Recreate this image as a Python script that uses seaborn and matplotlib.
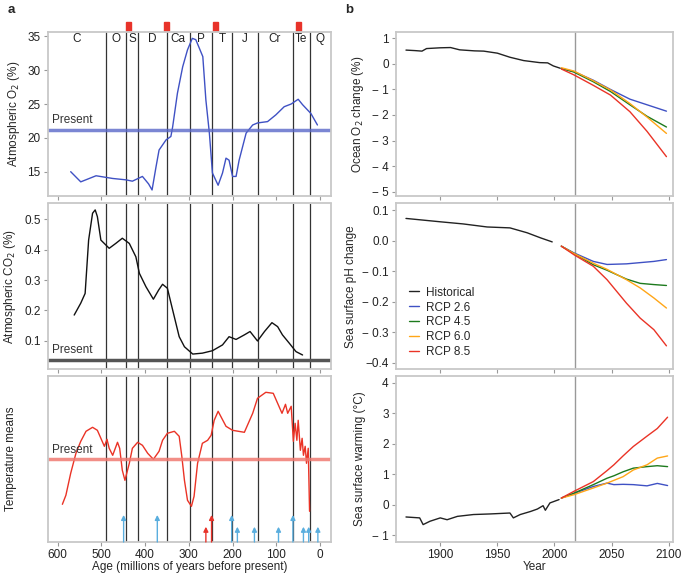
import numpy as np
import pandas as pd
import seaborn as sns
import matplotlib.pyplot as plt
from matplotlib.patches import Rectangle
from matplotlib.lines import Line2D

sns.set_style("ticks")
plt.rcParams['font.family'] = ['Liberation Sans', 'DejaVu Sans']

# ---- panel a: deep time (Myr before present) ----
o2_age = [570, 547, 512, 474, 444, 429, 406, 392, 384, 375, 368, 352, 341, 337, 326, 314,
          303, 292, 284, 268, 261, 253, 246, 233, 223, 215, 208, 200, 192, 185, 169, 154,
          143, 120, 101, 82, 66, 50, 40, 21, 6]
o2_val = [15.0, 13.5, 14.4, 14.0, 13.8, 13.6, 14.3, 13.2, 12.3, 15.7, 18.2, 19.7, 20.2, 21.6,
          26.6, 30.5, 33.0, 34.7, 34.5, 32.0, 25.6, 20.7, 14.8, 13.0, 14.8, 17.0, 16.7, 14.3,
          14.3, 16.7, 20.7, 21.9, 22.2, 22.4, 23.4, 24.6, 25.0, 25.7, 24.9, 23.6, 21.9]

co2_age = [562, 547, 537, 529, 520, 514, 509, 501, 482, 467, 452, 436, 421, 413, 398, 381,
           369, 360, 349, 337, 322, 310, 291, 269, 246, 223, 208, 192, 173, 160, 143, 127,
           110, 97, 86, 70, 55, 40]
co2_val = [0.185, 0.224, 0.256, 0.431, 0.519, 0.530, 0.508, 0.431, 0.404, 0.420, 0.437,
           0.420, 0.376, 0.322, 0.278, 0.237, 0.267, 0.286, 0.273, 0.202, 0.114, 0.081,
           0.057, 0.060, 0.068, 0.087, 0.114, 0.105, 0.120, 0.131, 0.100, 0.131, 0.160,
           0.147, 0.120, 0.092, 0.065, 0.054]

temp_age = [589, 581, 570, 558, 547, 535, 520, 509, 501, 493, 487, 482, 474, 463, 458, 452,
            446, 436, 429, 417, 406, 394, 381, 368, 360, 349, 333, 322, 316, 310, 303, 294,
            288, 280, 269, 257, 249, 242, 233, 227, 215, 200, 173, 154, 143, 124, 107, 97,
            87, 79, 74, 66, 61, 57, 53, 50, 45, 41, 38, 34, 31, 27, 24]
temp_val = [-4.5, -3.6, -1.4, 0.6, 1.8, 2.8, 3.2, 2.9, 2.1, 1.3, 2.0, 1.1, 0.4, 1.7, 1.1,
            -1.1, -2.1, -0.4, 1.1, 1.7, 1.4, 0.6, 0.0, 0.8, 1.9, 2.6, 2.8, 2.3, 0.3, -2.1,
            -4.1, -4.7, -3.7, -0.4, 1.6, 1.9, 2.4, 3.9, 4.8, 4.3, 3.3, 2.9, 2.7, 4.6, 6.1,
            6.7, 6.6, 5.6, 4.6, 5.5, 4.6, 5.3, 1.8, 3.6, 1.9, 3.9, 0.9, 2.1, 0.4, 1.3, -0.4,
            1.1, -5.2]

boundaries = [490, 443, 416, 350, 297, 247, 201, 142, 63, 24]
periods = ["C", "O", "S", "D", "Ca", "P", "T", "J", "Cr", "Te", "Q"]
period_pos = [557, 467, 430, 383, 324, 272, 224, 172, 103, 44, 0]
extinctions = [437, 352, 238, 50]
blue_tall = [449, 372, 202, 62]
blue_short = [189, 150, 95, 38, 26, 5]
red_tall = [248]
red_short = [261]

# ---- panel b: modern ocean ----
o2_hist_years = [1870, 1878, 1884, 1888, 1900, 1909, 1917, 1930, 1938, 1950, 1961, 1973,
                 1987, 1994, 1999, 2005]
o2_hist = [0.54, 0.52, 0.50, 0.60, 0.63, 0.64, 0.55, 0.51, 0.50, 0.42, 0.26, 0.13, 0.05,
           0.04, -0.08, -0.17]
o2_rcp_years = [2006, 2017, 2034, 2049, 2066, 2081, 2098]
o2_rcp26 = [-0.18, -0.30, -0.64, -1.00, -1.38, -1.60, -1.85]
o2_rcp45 = [-0.18, -0.32, -0.70, -1.08, -1.60, -2.05, -2.47]
o2_rcp60 = [-0.15, -0.28, -0.66, -1.02, -1.55, -2.08, -2.72]
o2_rcp85 = [-0.20, -0.43, -0.84, -1.22, -1.87, -2.64, -3.63]

ph_hist_years = [1870, 1900, 1920, 1941, 1961, 1976, 1988, 1998]
ph_hist = [0.073, 0.062, 0.055, 0.045, 0.042, 0.026, 0.009, -0.004]
ph_rcp_years = [2006, 2017, 2034, 2046, 2063, 2075, 2087, 2098]
ph_rcp26 = [-0.018, -0.040, -0.068, -0.078, -0.076, -0.072, -0.068, -0.062]
ph_rcp45 = [-0.018, -0.042, -0.079, -0.097, -0.126, -0.140, -0.144, -0.147]
ph_rcp60 = [-0.018, -0.042, -0.074, -0.094, -0.128, -0.155, -0.188, -0.221]
ph_rcp85 = [-0.018, -0.046, -0.084, -0.128, -0.205, -0.254, -0.292, -0.345]

sst_hist_years = [1870, 1882, 1885, 1891, 1900, 1906, 1915, 1929, 1944, 1961, 1964, 1970,
                  1979, 1985, 1990, 1992, 1996, 2004]
sst_hist = [-0.40, -0.43, -0.65, -0.54, -0.43, -0.49, -0.38, -0.32, -0.30, -0.27, -0.43,
            -0.32, -0.22, -0.14, -0.03, -0.18, 0.06, 0.17]
sst_rcp_years = [2006, 2017, 2034, 2046, 2052, 2060, 2069, 2081, 2090, 2099]
sst_rcp26 = [0.22, 0.37, 0.60, 0.71, 0.66, 0.67, 0.66, 0.62, 0.70, 0.63]
sst_rcp45 = [0.22, 0.38, 0.66, 0.87, 0.95, 1.08, 1.20, 1.25, 1.28, 1.25]
sst_rcp60 = [0.22, 0.33, 0.55, 0.71, 0.80, 0.92, 1.14, 1.31, 1.53, 1.60]
sst_rcp85 = [0.22, 0.44, 0.76, 1.12, 1.31, 1.60, 1.91, 2.25, 2.50, 2.87]

scen_colors = {"Historical": "#222222", "RCP 2.6": "#3f51c4", "RCP 4.5": "#1d7a1d",
               "RCP 6.0": "#ffa617", "RCP 8.5": "#ea3326"}


def long_df(hy, h, ry, r26, r45, r60, r85):
    parts = [pd.DataFrame({"year": hy, "val": h, "scen": "Historical"})]
    for name, v in [("RCP 2.6", r26), ("RCP 4.5", r45), ("RCP 6.0", r60), ("RCP 8.5", r85)]:
        parts.append(pd.DataFrame({"year": ry, "val": v, "scen": name}))
    return pd.concat(parts, ignore_index=True)


W, H = 685, 574
fig = plt.figure(figsize=(W / 100, H / 100), dpi=100)
rows = [(31.7, 196), (203.5, 369), (376, 542)]


def add_ax(x0, x1, r):
    y0, y1 = r
    return fig.add_axes([x0 / W, 1 - y1 / H, (x1 - x0) / W, (y1 - y0) / H])


axL = [add_ax(47.5, 331, r) for r in rows]
axR = [add_ax(395.7, 673.3, r) for r in rows]

for ax in axL + axR:
    for s in ax.spines.values():
        s.set_color("#c8c8c8")
        s.set_linewidth(1.3)
    ax.tick_params(direction="out", length=3, width=0.8, color="#999999",
                   labelsize=8.5, labelcolor="#222222", pad=2)

# left panels
sns.lineplot(x=o2_age, y=o2_val, ax=axL[0], color="#3f51c4", lw=1.0, sort=False)
sns.lineplot(x=co2_age, y=co2_val, ax=axL[1], color="#111111", lw=1.0, sort=False)
sns.lineplot(x=temp_age, y=temp_val, ax=axL[2], color="#ea3326", lw=1.0, sort=False)

axL[0].axhline(21.2, color="#5a68c8", lw=2.5, alpha=0.8)
axL[1].axhline(0.038, color="#555555", lw=2.5)
axL[2].axhline(0.0, color="#f07a72", lw=2.5, alpha=0.85)

axL[0].set_ylim(11.41, 35.68)
axL[0].set_yticks([15, 20, 25, 30, 35])
axL[1].set_ylim(0.008, 0.551)
axL[1].set_yticks([0.1, 0.2, 0.3, 0.4, 0.5])
axL[2].set_ylim(-8.27, 8.33)
axL[2].set_yticks([])

present_y = [21.2, 0.038, 0.0]
for ax, py in zip(axL, present_y):
    ax.set_xlim(623, -25)
    ax.set_xticks([600, 500, 400, 300, 200, 100, 0])
    for b in boundaries:
        ax.axvline(b, color="#333333", lw=0.9, zorder=1)
    ax.annotate("Present", (612, py), xytext=(0, 2.5), textcoords="offset points",
                fontsize=8.5, color="#333333", va="bottom", ha="left")
for ax in axL[:2]:
    ax.tick_params(labelbottom=False)

for name, pos in zip(periods, period_pos):
    axL[0].text(pos, 0.955, name, transform=axL[0].get_xaxis_transform(),
                ha="center", va="center", fontsize=8.5, color="#222222")
for e in extinctions:
    axL[0].add_patch(Rectangle((e - 5.7, 1.006), 11.4, 0.055, color="#e8332a",
                               transform=axL[0].get_xaxis_transform(), clip_on=False))

for ages, top, col in [(blue_tall, 0.163, "#5aaede"), (blue_short, 0.092, "#5aaede"),
                       (red_tall, 0.163, "#e8332a"), (red_short, 0.092, "#e8332a")]:
    for a in ages:
        axL[2].annotate("", xy=(a, top), xytext=(a, 0.0),
                        xycoords=axL[2].get_xaxis_transform(),
                        arrowprops=dict(arrowstyle="-|>", color=col, lw=1.0,
                                        mutation_scale=7, shrinkA=0, shrinkB=0))

axL[0].set_ylabel("Atmospheric O$_2$ (%)", fontsize=8.5)
axL[1].set_ylabel("Atmospheric CO$_2$ (%)", fontsize=8.5)
axL[2].set_ylabel("Temperature means", fontsize=8.5, labelpad=22)
axL[2].set_xlabel("Age (millions of years before present)", fontsize=8.5, labelpad=0)

# right panels
dfs = [long_df(o2_hist_years, o2_hist, o2_rcp_years, o2_rcp26, o2_rcp45, o2_rcp60, o2_rcp85),
       long_df(ph_hist_years, ph_hist, ph_rcp_years, ph_rcp26, ph_rcp45, ph_rcp60, ph_rcp85),
       long_df(sst_hist_years, sst_hist, sst_rcp_years, sst_rcp26, sst_rcp45, sst_rcp60,
               sst_rcp85)]
for ax, d in zip(axR, dfs):
    sns.lineplot(data=d, x="year", y="val", hue="scen", palette=scen_colors, ax=ax,
                 lw=1.0, legend=False, estimator=None)
    ax.axvline(2018, color="#999999", lw=1.0, zorder=0)
    ax.set_xlim(1861, 2104)
    ax.set_xticks([1900, 1950, 2000, 2050, 2100])
    ax.set_xlabel("")
for ax in axR[:2]:
    ax.tick_params(labelbottom=False)

axR[0].set_ylim(-5.17, 1.26)
axR[0].set_yticks([1, 0, -1, -2, -3, -4, -5])
axR[1].set_ylim(-0.421, 0.122)
axR[1].set_yticks([0.1, 0.0, -0.1, -0.2, -0.3, -0.4])
axR[1].set_yticklabels(["0.1", "0.0", "\u2212 0.1", "\u2212 0.2", "\u2212 0.3", "\u22120.4"])
axR[0].set_yticklabels(["1", "0", "\u2212 1", "\u2212 2", "\u2212 3", "\u2212 4", "\u2212 5"])
axR[2].set_ylim(-1.22, 4.22)
axR[2].set_yticks([-1, 0, 1, 2, 3, 4])
axR[2].set_yticklabels(["\u2212 1", "0", "1", "2", "3", "4"])

axR[0].set_ylabel("Ocean O$_2$ change (%)", fontsize=8.5)
axR[1].set_ylabel("Sea surface pH change", fontsize=8.5)
axR[2].set_ylabel("Sea surface warming (\u00b0C)", fontsize=8.5)
axR[2].set_xlabel("Year", fontsize=8.5, labelpad=0)

handles = [Line2D([], [], color=c, lw=1.0) for c in scen_colors.values()]
axR[1].legend(handles, list(scen_colors.keys()), loc="lower left", frameon=False,
              fontsize=8.5, handlelength=0.8, handletextpad=0.6, labelspacing=0.25,
              bbox_to_anchor=(0.01, 0.0))

fig.text(8 / W, 1 - 10 / H, "a", fontsize=9.5, fontweight="bold", va="center")
fig.text(345 / W, 1 - 10 / H, "b", fontsize=9.5, fontweight="bold", va="center")

fig.savefig("out.png", dpi=100)
